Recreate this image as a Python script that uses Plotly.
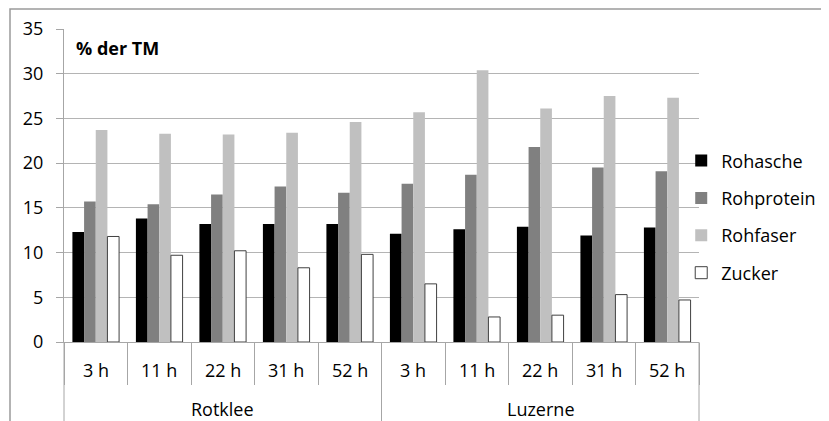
import plotly.graph_objects as go

group_names = ["Rotklee", "Luzerne"]
time_labels = ["3 h", "11 h", "22 h", "31 h", "52 h"]
groups = [g for g in group_names for _ in time_labels]
times = time_labels * len(group_names)

rohasche = [12.3, 13.8, 13.2, 13.2, 13.2, 12.1, 12.6, 12.9, 11.9, 12.8]
rohprotein = [15.7, 15.4, 16.5, 17.4, 16.7, 17.7, 18.7, 21.8, 19.5, 19.1]
rohfaser = [23.7, 23.3, 23.2, 23.4, 24.6, 25.7, 30.4, 26.1, 27.5, 27.3]
zucker = [11.8, 9.7, 10.2, 8.3, 9.8, 6.5, 2.8, 3.0, 5.3, 4.7]

series_names = ["Rohasche", "Rohprotein", "Rohfaser", "Zucker"]
series_values = [rohasche, rohprotein, rohfaser, zucker]
fills = ["#000000", "#808080", "#c0c0c0", "#ffffff"]
lines = ["#000000", "#808080", "#c0c0c0", "#404040"]
line_w = [0, 0, 0, 1]

FONT = "Open Sans"
FS = 18
AXC = "#a6a6a6"

# page body has an 8px margin, so the figure is placed at (8, 8)
OFF = 8
W, H = 829 - OFF, 421 - OFF
ML, MR, MT, MB = 64 - OFF, 130, 29 - OFF, 79
plot_h = H - MT - MB
plot_w = W - ML - MR
base_y = H - MB + OFF  # page pixel of the zero line


def py2paper(py):
    return (base_y - py) / plot_h


fig = go.Figure()
for i, (name, vals) in enumerate(zip(series_names, series_values)):
    fig.add_trace(go.Bar(
        x=[groups, times], y=vals, name=name,
        marker=dict(color=fills[i], line=dict(color=lines[i], width=line_w[i])),
        legendgroup=name,
    ))

fig.update_layout(
    width=W, height=H,
    margin=dict(l=ML, r=MR, t=MT, b=MB, autoexpand=False),
    paper_bgcolor="white", plot_bgcolor="white",
    barmode="group", bargap=0.265, bargroupgap=0,
    font=dict(family=FONT, size=FS, color="#000000"),
    legend=dict(x=0.972, y=0.40, xanchor="left", yanchor="middle",
                font=dict(size=FS), tracegroupgap=11, itemwidth=30,
                bgcolor="rgba(0,0,0,0)"),
    showlegend=True,
)
fig.update_yaxes(range=[0, 35], dtick=5, showgrid=True, gridcolor="#b4b4b4", gridwidth=1,
                 showline=True, linecolor=AXC, linewidth=1,
                 ticks="outside", ticklen=7, tickcolor=AXC, ticklabelstandoff=9,
                 zeroline=False, tickfont=dict(size=FS), automargin=False)
fig.update_xaxes(type="multicategory", showline=True, linecolor=AXC, linewidth=1,
                 ticks="outside", tickson="boundaries", ticklen=42, tickcolor=AXC,
                 showdividers=False, showticklabels=False, automargin=False)

# category labels (inner level) and group labels (outer level)
n = len(times)
inner_y = py2paper(370)
outer_y = py2paper(409)
for i, t in enumerate(times):
    fig.add_annotation(text=t, xref="paper", yref="paper", x=(i + 0.5) / n, y=inner_y,
                       xanchor="center", yanchor="middle", showarrow=False,
                       font=dict(size=FS))
bounds = [0]
for i in range(1, n):
    if groups[i] != groups[i - 1]:
        bounds.append(i)
bounds.append(n)
for k, g in enumerate(group_names):
    a, b = bounds[k], bounds[k + 1]
    fig.add_annotation(text=g, xref="paper", yref="paper", x=(a + b) / 2 / n, y=outer_y,
                       xanchor="center", yanchor="middle", showarrow=False,
                       font=dict(size=FS))
for bnd in bounds:
    fig.add_shape(type="line", xref="paper", yref="paper",
                  x0=bnd / n, x1=bnd / n, y0=0, y1=-0.4,
                  line=dict(color=AXC, width=1))

# outer chart frame
fig.add_shape(type="rect", xref="paper", yref="paper",
              x0=-(ML + OFF - 10) / plot_w, x1=1.5, y0=-0.6, y1=py2paper(9),
              line=dict(color="#9a9a9a", width=1.5), layer="below")

fig.add_annotation(text="<b>% der TM</b>", xref="paper", yref="paper",
                   x=0.015, y=py2paper(48), xanchor="left", yanchor="middle",
                   showarrow=False, font=dict(size=FS))

fig.write_html("out.html")
